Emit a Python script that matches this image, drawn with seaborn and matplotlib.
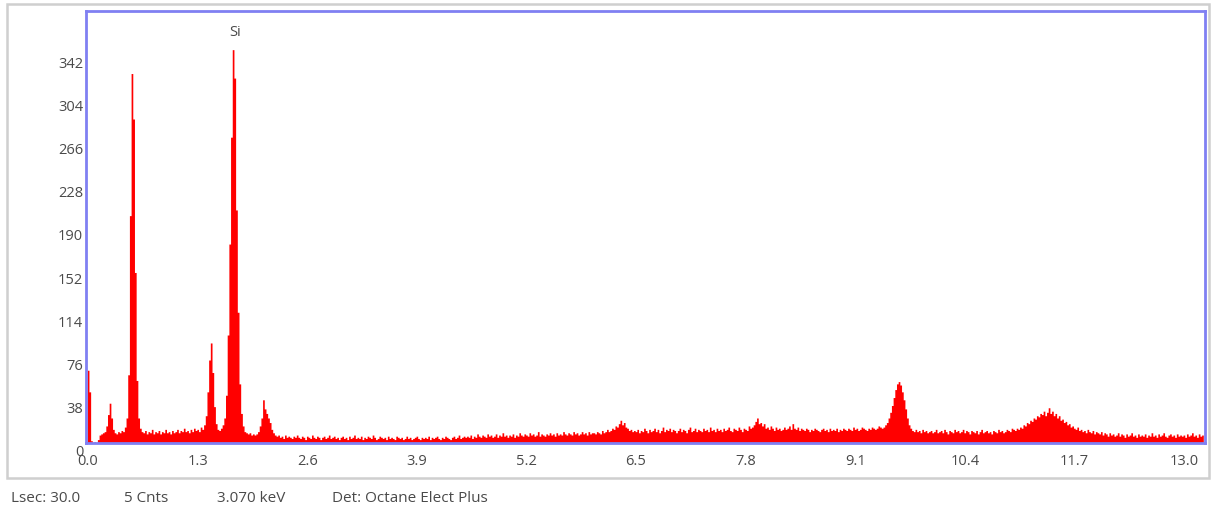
import numpy as np
import pandas as pd
import matplotlib
matplotlib.use("Agg")
import matplotlib.pyplot as plt
import matplotlib.patches as mpatches
import matplotlib.transforms as mtransforms
import seaborn as sns

# EDS spectrum: counts per 0.02 keV channel, starting at 0.00 keV
channel_width = 0.02
counts = [
    # 0.00 - 0.48 keV
    64, 45, 2, 0, 1, 0, 3, 7, 8, 9, 10, 15, 25, 35, 22, 12, 9, 8, 10, 9, 11, 10, 14, 22, 60,
    # 0.50 - 0.98
    200, 325, 285, 150, 55, 22, 13, 10, 9, 11, 8, 10, 9, 12, 8, 10, 9, 11, 8, 10, 9, 12, 9, 10, 8,
    # 1.00 - 1.48
    11, 9, 10, 12, 9, 11, 10, 13, 10, 11, 9, 12, 10, 13, 11, 12, 10, 14, 12, 16, 24, 45, 73, 88, 62,
    # 1.50 - 1.98
    32, 17, 12, 11, 13, 16, 22, 42, 95, 175, 269, 346, 321, 205, 115, 52, 26, 15, 10, 9, 8, 9, 7, 8, 7,
    # 2.00 - 2.48
    8, 10, 15, 22, 38, 30, 26, 22, 18, 12, 9, 7, 6, 7, 5, 6, 4, 7, 5, 6, 5, 4, 6, 5, 7,
    # 2.50 - 2.98
    5, 4, 6, 5, 3, 6, 5, 4, 7, 5, 4, 6, 5, 3, 5, 6, 4, 5, 7, 4, 5, 6, 4, 5, 3,
    # 3.00 - 3.48
    5, 6, 4, 5, 3, 6, 4, 5, 7, 4, 5, 4, 6, 3, 5, 4, 6, 5, 4, 7, 5, 3, 4, 6, 5,
    # 3.50 - 3.98
    4, 5, 3, 6, 4, 5, 4, 3, 6, 5, 4, 5, 3, 4, 6, 4, 5, 3, 4, 5, 6, 4, 3, 5, 4,
    # 4.00 - 4.48
    5, 4, 6, 3, 5, 4, 5, 6, 4, 3, 5, 4, 6, 5, 4, 3, 5, 6, 4, 5, 7, 4, 5, 6, 5,
    # 4.50 - 4.98
    6, 5, 7, 4, 6, 5, 8, 6, 5, 7, 6, 5, 8, 6, 7, 5, 6, 8, 5, 7, 6, 9, 6, 7, 5,
    # 5.00 - 5.48
    7, 6, 8, 5, 7, 6, 9, 7, 6, 8, 7, 6, 9, 7, 8, 6, 7, 10, 6, 8, 7, 6, 8, 7, 9,
    # 5.50 - 5.98
    7, 8, 6, 9, 7, 8, 7, 10, 8, 7, 9, 8, 7, 10, 8, 9, 7, 8, 10, 8, 9, 7, 10, 8, 9,
    # 6.00 - 6.48
    9, 8, 10, 9, 8, 11, 9, 10, 12, 10, 11, 13, 12, 15, 14, 17, 20, 16, 18, 14, 13, 11, 12, 10, 11,
    # 6.50 - 6.98
    10, 12, 9, 11, 10, 13, 11, 9, 12, 10, 11, 13, 10, 12, 9, 11, 14, 10, 12, 11, 13, 10, 12, 11, 9,
    # 7.00 - 7.48
    11, 13, 10, 12, 11, 9, 12, 14, 10, 11, 13, 10, 12, 11, 10, 13, 11, 12, 10, 14, 11, 12, 10, 13, 11,
    # 7.50 - 7.98
    12, 10, 13, 11, 12, 14, 11, 10, 13, 12, 11, 14, 12, 10, 13, 12, 11, 15, 13, 14, 16, 19, 22, 17, 18,
    # 8.00 - 8.48
    15, 17, 13, 14, 12, 15, 13, 11, 14, 12, 13, 11, 12, 14, 12, 13, 15, 12, 17, 13, 12, 14, 11, 13, 12,
    # 8.50 - 8.98
    11, 13, 12, 10, 12, 11, 13, 12, 11, 10, 12, 13, 11, 12, 10, 13, 11, 12, 11, 13, 10, 12, 11, 13, 12,
    # 9.00 - 9.48
    11, 13, 12, 11, 14, 12, 13, 11, 12, 14, 13, 12, 11, 13, 12, 14, 13, 12, 13, 15, 14, 13, 14, 16, 18,
    # 9.50 - 9.98
    22, 27, 33, 40, 47, 52, 54, 51, 45, 38, 30, 22, 16, 13, 11, 10, 12, 10, 11, 9, 12, 10, 11, 9, 10,
    # 10.00 - 10.48
    11, 9, 10, 12, 9, 10, 11, 9, 12, 10, 8, 11, 10, 9, 12, 10, 11, 9, 10, 12, 9, 11, 10, 8, 11,
    # 10.50 - 10.98
    10, 9, 11, 8, 10, 12, 9, 10, 11, 9, 10, 8, 11, 10, 9, 12, 10, 11, 9, 10, 12, 11, 10, 13, 12,
    # 11.00 - 11.48
    11, 13, 12, 14, 13, 16, 15, 18, 17, 20, 19, 22, 21, 24, 23, 26, 25, 28, 24, 27, 31, 26, 28, 24, 26,
    # 11.50 - 11.98
    22, 24, 20, 21, 18, 19, 16, 17, 14, 15, 13, 12, 14, 11, 12, 10, 11, 9, 12, 10, 9, 11, 8, 10, 9,
    # 12.00 - 12.48
    8, 10, 7, 9, 8, 6, 9, 7, 8, 6, 7, 9, 6, 8, 7, 5, 8, 6, 7, 9, 6, 7, 5, 8, 6,
    # 12.50 - 12.98
    7, 6, 8, 5, 7, 6, 9, 6, 7, 5, 8, 6, 7, 9, 6, 5, 7, 8, 6, 7, 5, 8, 6, 7, 6,
    # 13.00 - 13.22
    7, 5, 8, 6, 7, 9, 6, 7, 5, 8, 6, 7,
]

x_ticks = [0.0, 1.3, 2.6, 3.9, 5.2, 6.5, 7.8, 9.1, 10.4, 11.7, 13.0]
y_ticks = [0, 38, 76, 114, 152, 190, 228, 266, 304, 342]
peak_label = ("Si", 1.74)
status_items = [("Lsec: 30.0", 11), ("5 Cnts", 124), ("3.070 keV", 217), ("Det: Octane Elect Plus", 332)]

sns.set_style("white")
plt.rcParams["font.family"] = ["Open Sans", "DejaVu Sans"]

text_color = "#4a4a4a"
frame_color = "#8080f2"

W, H = 1211, 514
fig = plt.figure(figsize=(W / 100, H / 100), dpi=100)
fig.patch.set_facecolor("white")

# light panel outline around the plot area
panel = mpatches.Rectangle((7 / W, (H - 478) / H), (1209 - 7) / W, (478 - 4) / H,
                           transform=fig.transFigure, fill=False,
                           edgecolor="#cfcfcf", linewidth=1.8, zorder=0)
fig.patches.append(panel)

ax = fig.add_axes([86 / W, (H - 443) / H, (1205 - 86) / W, (443 - 11) / H])

energy = np.arange(len(counts)) * channel_width
spectrum = pd.DataFrame({"energy": energy, "counts": counts})
lo = energy[0] - channel_width / 2
hi = energy[-1] + channel_width / 2
sns.histplot(data=spectrum, x="energy", weights="counts", bins=len(counts),
             binrange=(lo, hi), element="step", fill=True, color="#ff0000",
             alpha=1.0, linewidth=0, ax=ax)

ax.set_xlim(-0.025, 13.25)
ax.set_ylim(0, 380)
ax.set_xlabel("")
ax.set_ylabel("")

ax.set_xticks(x_ticks)
ax.set_xticklabels([f"{v:.1f}" for v in x_ticks])
ax.set_yticks(y_ticks)
ax.set_yticklabels([str(v) for v in y_ticks])
ax.tick_params(axis="x", length=2, width=0.8, color="#777777", pad=6,
               labelsize=10.5, labelcolor=text_color)
ax.tick_params(axis="y", length=0, pad=2, labelsize=10.5, labelcolor=text_color)

# count labels sit slightly below their grid values
shift = mtransforms.ScaledTranslation(0, -8 / 100, fig.dpi_scale_trans)
for lbl in ax.get_yticklabels():
    lbl.set_transform(lbl.get_transform() + shift)

for side in ["left", "right", "top", "bottom"]:
    ax.spines[side].set_visible(True)
    ax.spines[side].set_color(frame_color)
    ax.spines[side].set_linewidth(2.0)

ax.text(peak_label[1], 361, peak_label[0], ha="center", va="center",
        fontsize=10.5, color=text_color)

for txt, xpx in status_items:
    fig.text(xpx / W, (H - 498) / H, txt, ha="left", va="center",
             fontsize=11, color=text_color)

fig.savefig("out.png", dpi=100, facecolor="white")
